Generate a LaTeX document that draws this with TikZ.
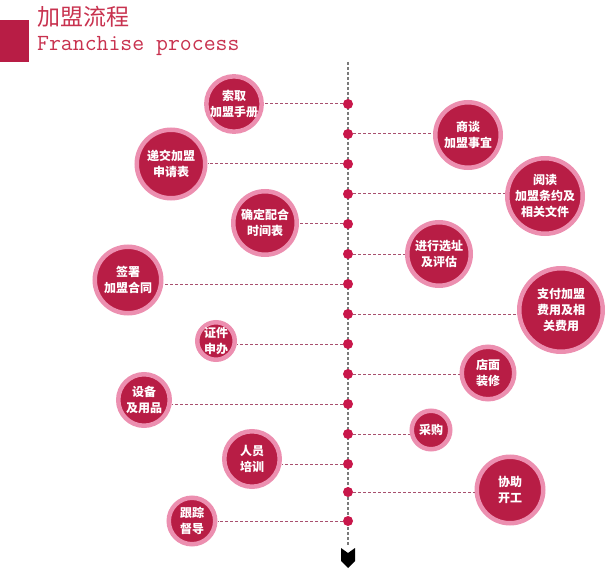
\documentclass[tikz,border=0pt]{standalone}
\usepackage{fontspec}
\newfontfamily\cjk{Noto Sans CJK SC}
\definecolor{plum}{HTML}{B81D45}
\definecolor{rosering}{HTML}{EC8FB0}
\definecolor{linkline}{HTML}{A8506E}
\definecolor{dotred}{HTML}{C8174A}
\definecolor{axisgray}{HTML}{7A7A7A}
\definecolor{titlered}{HTML}{C8324F}
\tikzset{
  stepnode/.style={circle, fill=plum, draw=rosering, line width=4.5pt,
    text=white, align=center, inner sep=0pt, minimum size=#1,
    font=\cjk\bfseries\fontsize{12}{16}\selectfont},
  dotnode/.style={circle, fill=dotred, inner sep=0pt, minimum size=10pt},
  link/.style={linkline, line width=1pt, dash pattern=on 3pt off 2pt},
  axisline/.style={axisgray, line width=2pt, dash pattern=on 3pt off 2pt}
}
\begin{document}
\begin{tikzpicture}[x=1pt,y=-1pt]
      \useasboundingbox (0,0) rectangle (605,572);
      % title
      \fill[plum] (0,20) rectangle (29,62);
      \node[anchor=base west, inner sep=0pt, text=titlered,
        font=\cjk\fontsize{23}{23}\selectfont] (title) at (37,26) {加盟流程};
      \node[anchor=base west, inner sep=0pt, text=titlered,
        font=\ttfamily\fontsize{23.1}{23.1}\selectfont] (subtitle) at (37,51) {Franchise process};
      % axis
      \coordinate (top) at (348,62);
      \coordinate (bottom) at (348,546);
      \draw[axisline] (top) -- (bottom);
      \fill (341,548) -- (348,553) -- (355,548) -- (355,561) -- (348,568) -- (341,561) -- cycle;
      % points on the axis
      \path
        (348,104) coordinate (p1)
        (348,134) coordinate (p2)
        (348,164) coordinate (p3)
        (348,194) coordinate (p4)
        (348,224) coordinate (p5)
        (348,254) coordinate (p6)
        (348,284) coordinate (p7)
        (348,314) coordinate (p8)
        (348,344) coordinate (p9)
        (348,374) coordinate (p10)
        (348,404) coordinate (p11)
        (348,434) coordinate (p12)
        (348,464) coordinate (p13)
        (348,492) coordinate (p14)
        (348,521) coordinate (p15);
      % steps
      \path
        (234,104) node[stepnode=54.5pt] (s1) {索取\\加盟手册}
        (468,135) node[stepnode=65.5pt] (s2) {商谈\\加盟事宜}
        (171,164) node[stepnode=68.5pt] (s3) {递交加盟\\申请表}
        (545,196) node[stepnode=75.5pt] (s4) {阅读\\加盟条约及\\相关文件}
        (265,223) node[stepnode=63.5pt] (s5) {确定配合\\时间表}
        (439,254) node[stepnode=63.5pt] (s6) {进行选址\\及评估}
        (128,280) node[stepnode=66.5pt] (s7) {签署\\加盟合同}
        (561,310) node[stepnode=83.5pt] (s8) {支付加盟\\费用及相\\关费用}
        (216,341) node[stepnode=37.5pt] (s9) {证件\\申办}
        (488,373) node[stepnode=52.5pt] (s10) {店面\\装修}
        (144,400) node[stepnode=51.5pt] (s11) {设备\\及用品}
        (431,430) node[stepnode=38.5pt] (s12) {采购}
        (252,459) node[stepnode=55.5pt] (s13) {人员\\培训}
        (510,490) node[stepnode=66.5pt] (s14) {协助\\开工}
        (192,521) node[stepnode=46.5pt] (s15) {跟踪\\督导};
      \begin{scope}[link]
        \draw (p1) -- (p1 -| s1.east);
        \draw (p2) -- (p2 -| s2.west);
        \draw (p3) -- (p3 -| s3.east);
        \draw (p4) -- (p4 -| s4.west);
        \draw (p5) -- (p5 -| s5.east);
        \draw (p6) -- (p6 -| s6.west);
        \draw (p7) -- (p7 -| s7.east);
        \draw (p8) -- (p8 -| s8.west);
        \draw (p9) -- (p9 -| s9.east);
        \draw (p10) -- (p10 -| s10.west);
        \draw (p11) -- (p11 -| s11.east);
        \draw (p12) -- (p12 -| s12.west);
        \draw (p13) -- (p13 -| s13.east);
        \draw (p14) -- (p14 -| s14.west);
        \draw (p15) -- (p15 -| s15.east);
      \end{scope}
      \foreach \i in {1,...,15}
        \node[dotnode] (d\i) at (p\i) {};
    \end{tikzpicture}
\end{document}
